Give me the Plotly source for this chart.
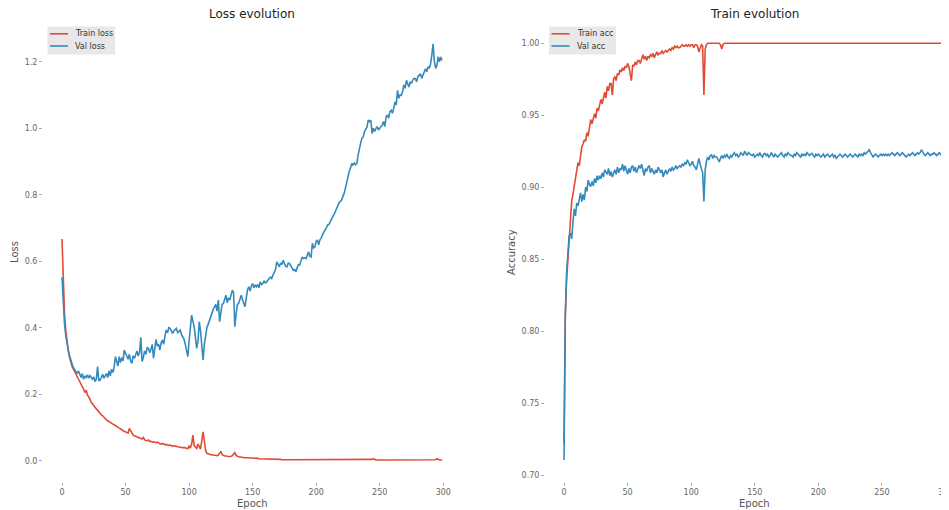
import plotly.graph_objects as go

# ---------------- data ----------------
train_loss = [
    0.667, 0.52, 0.44, 0.39, 0.355, 0.33, 0.31, 0.295, 0.283, 0.275,
    0.268, 0.258, 0.25, 0.243, 0.236, 0.23, 0.222, 0.215, 0.205, 0.212,
    0.198, 0.193, 0.185, 0.175, 0.172, 0.165, 0.16, 0.155, 0.15, 0.147,
    0.143, 0.138, 0.135, 0.13, 0.127, 0.123, 0.12, 0.117, 0.115, 0.113,
    0.11, 0.108, 0.105, 0.102, 0.1, 0.098, 0.096, 0.093, 0.09, 0.088,
    0.087, 0.085, 0.083, 0.097, 0.09, 0.08, 0.077, 0.075, 0.073, 0.071,
    0.07, 0.068, 0.066, 0.065, 0.07, 0.063, 0.061, 0.06, 0.062, 0.058,
    0.058, 0.056, 0.057, 0.055, 0.054, 0.056, 0.052, 0.051, 0.05, 0.052,
    0.05, 0.048, 0.049, 0.047, 0.046, 0.047, 0.045, 0.044, 0.045, 0.043,
    0.043, 0.042, 0.041, 0.042, 0.04, 0.039, 0.04, 0.038, 0.037, 0.036,
    0.045, 0.038, 0.05, 0.077, 0.045, 0.04, 0.037, 0.05, 0.04, 0.035,
    0.06, 0.087, 0.06, 0.03, 0.022, 0.02, 0.019, 0.018, 0.018, 0.017,
    0.016, 0.016, 0.015, 0.017, 0.022, 0.028, 0.018, 0.015, 0.014, 0.014,
    0.013, 0.013, 0.012, 0.013, 0.015, 0.02, 0.024, 0.016, 0.012, 0.011,
    0.011, 0.01, 0.01, 0.01, 0.009, 0.009, 0.009, 0.008, 0.008, 0.008,
    0.008, 0.007, 0.007, 0.007, 0.007, 0.006, 0.006, 0.006, 0.006, 0.006,
    0.005, 0.006, 0.005, 0.005, 0.005, 0.005, 0.004, 0.005, 0.004, 0.004,
    0.004, 0.004, 0.004, 0.003, 0.004, 0.003, 0.003, 0.003, 0.004, 0.003,
    0.003, 0.003, 0.003, 0.003, 0.003, 0.003, 0.004, 0.003, 0.003, 0.003,
    0.003, 0.003, 0.002, 0.003, 0.003, 0.002, 0.003, 0.002, 0.002, 0.003,
    0.002, 0.002, 0.002, 0.003, 0.002, 0.002, 0.002, 0.002, 0.002, 0.002,
    0.002, 0.002, 0.002, 0.002, 0.002, 0.002, 0.002, 0.002, 0.002, 0.002,
    0.002, 0.002, 0.002, 0.002, 0.002, 0.002, 0.002, 0.002, 0.002, 0.002,
    0.002, 0.002, 0.002, 0.002, 0.002, 0.002, 0.002, 0.002, 0.002, 0.002,
    0.002, 0.002, 0.002, 0.003, 0.004, 0.006, 0.003, 0.002, 0.002, 0.002,
    0.002, 0.002, 0.002, 0.002, 0.002, 0.002, 0.002, 0.002, 0.002, 0.002,
    0.002, 0.002, 0.002, 0.002, 0.002, 0.002, 0.002, 0.002, 0.002, 0.002,
    0.002, 0.002, 0.002, 0.002, 0.002, 0.002, 0.002, 0.002, 0.002, 0.002,
    0.002, 0.002, 0.002, 0.002, 0.002, 0.002, 0.002, 0.002, 0.002, 0.002,
    0.002, 0.002, 0.002, 0.002, 0.003, 0.006, 0.003, 0.002, 0.002, 0.002,
]

val_loss = [
    0.552, 0.46, 0.41, 0.375, 0.35, 0.33, 0.315, 0.30, 0.29, 0.28,
    0.273, 0.268, 0.262, 0.27, 0.258, 0.25, 0.262, 0.245, 0.255, 0.25,
    0.258, 0.248, 0.256, 0.25, 0.245, 0.252, 0.238, 0.245, 0.283, 0.24,
    0.243, 0.25, 0.26, 0.248, 0.255, 0.262, 0.25, 0.27, 0.255, 0.275,
    0.265, 0.28, 0.313, 0.293, 0.285, 0.313, 0.295, 0.31, 0.3, 0.333,
    0.325, 0.313, 0.305, 0.32, 0.3, 0.293, 0.315, 0.308, 0.32, 0.33,
    0.315, 0.325, 0.371, 0.298, 0.31, 0.33, 0.32, 0.34, 0.338, 0.325,
    0.335, 0.35, 0.308, 0.34, 0.365, 0.345, 0.35, 0.333, 0.355, 0.363,
    0.35, 0.375, 0.393, 0.385, 0.4, 0.398, 0.39, 0.383, 0.39, 0.395,
    0.398, 0.385, 0.39, 0.393, 0.38, 0.373, 0.365, 0.35, 0.333, 0.313,
    0.36, 0.41, 0.438, 0.42, 0.403, 0.37, 0.338, 0.36, 0.418, 0.39,
    0.34, 0.303, 0.35, 0.383, 0.4, 0.41, 0.423, 0.43, 0.445, 0.455,
    0.463, 0.47, 0.45, 0.483, 0.418, 0.45, 0.47, 0.473, 0.49, 0.498,
    0.475, 0.49, 0.483, 0.5, 0.513, 0.505, 0.403, 0.44, 0.47, 0.473,
    0.49, 0.498, 0.485, 0.475, 0.463, 0.49, 0.515, 0.523, 0.51, 0.525,
    0.533, 0.52, 0.528, 0.523, 0.53, 0.52, 0.538, 0.53, 0.533, 0.54,
    0.535, 0.538, 0.545, 0.548, 0.552, 0.548, 0.558, 0.565, 0.575, 0.598,
    0.588, 0.583, 0.595, 0.59, 0.603, 0.595, 0.585, 0.583, 0.594, 0.593,
    0.585, 0.578, 0.573, 0.575, 0.568, 0.58, 0.59, 0.588, 0.6, 0.613,
    0.608, 0.61, 0.608, 0.62, 0.628, 0.615, 0.613, 0.654, 0.64, 0.643,
    0.66, 0.664, 0.649, 0.665, 0.67, 0.68, 0.69, 0.694, 0.70, 0.709,
    0.71, 0.72, 0.725, 0.734, 0.74, 0.75, 0.76, 0.769, 0.775, 0.78,
    0.784, 0.795, 0.804, 0.82, 0.84, 0.854, 0.87, 0.88, 0.894, 0.89,
    0.895, 0.89, 0.894, 0.92, 0.944, 0.955, 0.97, 0.974, 0.99, 1.0,
    1.004, 1.025, 1.02, 1.024, 0.984, 1.0, 0.99, 0.999, 1.005, 0.995,
    1.0, 1.004, 1.01, 1.02, 1.005, 1.034, 1.04, 1.03, 1.05, 1.054,
    1.045, 1.06, 1.079, 1.07, 1.114, 1.09, 1.1, 1.099, 1.11, 1.13,
    1.12, 1.144, 1.13, 1.124, 1.14, 1.135, 1.145, 1.15, 1.149, 1.14,
    1.155, 1.16, 1.164, 1.15, 1.16, 1.17, 1.179, 1.17, 1.185, 1.18,
    1.194, 1.22, 1.254, 1.2, 1.18, 1.189, 1.215, 1.2, 1.214, 1.204,
]

train_acc = [
    0.722, 0.812, 0.835, 0.85, 0.865, 0.878, 0.89, 0.895, 0.9, 0.905,
    0.912, 0.917, 0.915, 0.924, 0.928, 0.93, 0.933, 0.932, 0.938, 0.9355,
    0.94, 0.947, 0.944, 0.949, 0.951, 0.948, 0.955, 0.953, 0.958, 0.961,
    0.958, 0.963, 0.966, 0.962, 0.97, 0.967, 0.972, 0.972, 0.964, 0.975,
    0.977, 0.974, 0.979, 0.978, 0.9815, 0.98, 0.983, 0.981, 0.984, 0.983,
    0.986, 0.984, 0.98, 0.974, 0.985, 0.984, 0.987, 0.985, 0.988, 0.988,
    0.986, 0.99, 0.992, 0.989, 0.991, 0.988, 0.991, 0.99, 0.992, 0.991,
    0.993, 0.99, 0.992, 0.994, 0.992, 0.993, 0.993, 0.995, 0.993, 0.994,
    0.995, 0.994, 0.9955, 0.996, 0.995, 0.997, 0.996, 0.998, 0.997, 0.998,
    0.997, 0.997, 0.998, 0.999, 0.998, 0.998, 0.999, 0.998, 0.999, 0.998,
    0.999, 0.999, 0.997, 0.999, 0.999, 0.998, 0.994, 0.997, 0.999, 0.998,
    0.964, 0.996, 0.999, 1.0, 1.0, 1.0, 1.0, 1.0, 1.0, 1.0,
    1.0, 1.0, 1.0, 0.999, 0.996, 0.999, 1.0, 1.0, 1.0, 1.0,
    1.0, 1.0, 1.0, 1.0, 1.0, 1.0, 1.0, 1.0, 1.0, 1.0,
    1.0, 1.0, 1.0, 1.0, 1.0, 1.0, 1.0, 1.0, 1.0, 1.0,
    1.0, 1.0, 1.0, 1.0, 1.0, 1.0, 1.0, 1.0, 1.0, 1.0,
    1.0, 1.0, 1.0, 1.0, 1.0, 1.0, 1.0, 1.0, 1.0, 1.0,
    1.0, 1.0, 1.0, 1.0, 1.0, 1.0, 1.0, 1.0, 1.0, 1.0,
    1.0, 1.0, 1.0, 1.0, 1.0, 1.0, 1.0, 1.0, 1.0, 1.0,
    1.0, 1.0, 1.0, 1.0, 1.0, 1.0, 1.0, 1.0, 1.0, 1.0,
    1.0, 1.0, 1.0, 1.0, 1.0, 1.0, 1.0, 1.0, 1.0, 1.0,
    1.0, 1.0, 1.0, 1.0, 1.0, 1.0, 1.0, 1.0, 1.0, 1.0,
    1.0, 1.0, 1.0, 1.0, 1.0, 1.0, 1.0, 1.0, 1.0, 1.0,
    1.0, 1.0, 1.0, 1.0, 1.0, 1.0, 1.0, 1.0, 1.0, 1.0,
    1.0, 1.0, 1.0, 1.0, 1.0, 1.0, 1.0, 1.0, 1.0, 1.0,
    1.0, 1.0, 1.0, 1.0, 1.0, 1.0, 1.0, 1.0, 1.0, 1.0,
    1.0, 1.0, 1.0, 1.0, 1.0, 1.0, 1.0, 1.0, 1.0, 1.0,
    1.0, 1.0, 1.0, 1.0, 1.0, 1.0, 1.0, 1.0, 1.0, 1.0,
    1.0, 1.0, 1.0, 1.0, 1.0, 1.0, 1.0, 1.0, 1.0, 1.0,
    1.0, 1.0, 1.0, 1.0, 1.0, 1.0, 1.0, 1.0, 1.0, 1.0,
]

val_acc = [
    0.7104, 0.808, 0.84, 0.855, 0.866, 0.868, 0.864, 0.875, 0.885, 0.88,
    0.889, 0.887, 0.893, 0.896, 0.89, 0.895, 0.891, 0.9, 0.897, 0.905,
    0.902, 0.9004, 0.904, 0.901, 0.906, 0.903, 0.908, 0.905, 0.908, 0.906,
    0.91, 0.907, 0.912, 0.91, 0.909, 0.913, 0.908, 0.911, 0.907, 0.91,
    0.912, 0.909, 0.914, 0.91, 0.913, 0.912, 0.916, 0.911, 0.915, 0.912,
    0.909, 0.913, 0.91, 0.914, 0.915, 0.911, 0.914, 0.91, 0.912, 0.915,
    0.913, 0.916, 0.912, 0.908, 0.913, 0.911, 0.914, 0.915, 0.91, 0.913,
    0.911, 0.909, 0.912, 0.91, 0.914, 0.912, 0.91, 0.912, 0.907, 0.91,
    0.912, 0.909, 0.911, 0.913, 0.911, 0.914, 0.912, 0.913, 0.915, 0.913,
    0.914, 0.915, 0.914, 0.916, 0.915, 0.917, 0.916, 0.919, 0.917, 0.915,
    0.916, 0.918, 0.915, 0.914, 0.912, 0.917, 0.92, 0.916, 0.912, 0.91,
    0.89, 0.912, 0.918, 0.921, 0.919, 0.922, 0.9225, 0.92, 0.922, 0.921,
    0.921, 0.919, 0.9175, 0.92, 0.922, 0.92, 0.922, 0.921, 0.923, 0.921,
    0.92, 0.922, 0.921, 0.923, 0.924, 0.922, 0.923, 0.921, 0.922, 0.924,
    0.923, 0.922, 0.925, 0.923, 0.922, 0.924, 0.923, 0.9225, 0.922, 0.923,
    0.921, 0.922, 0.923, 0.922, 0.924, 0.922, 0.921, 0.923, 0.9235, 0.922,
    0.923, 0.921, 0.922, 0.924, 0.922, 0.921, 0.923, 0.922, 0.921, 0.922,
    0.923, 0.924, 0.922, 0.921, 0.923, 0.922, 0.924, 0.923, 0.922, 0.922,
    0.921, 0.923, 0.922, 0.924, 0.923, 0.922, 0.921, 0.923, 0.922, 0.923,
    0.922, 0.924, 0.923, 0.922, 0.923, 0.9235, 0.922, 0.921, 0.923, 0.922,
    0.923, 0.922, 0.921, 0.922, 0.923, 0.921, 0.922, 0.923, 0.922, 0.921,
    0.922, 0.923, 0.921, 0.922, 0.92, 0.921, 0.922, 0.923, 0.922, 0.921,
    0.922, 0.923, 0.922, 0.921, 0.922, 0.923, 0.922, 0.921, 0.922, 0.923,
    0.922, 0.921, 0.923, 0.922, 0.923, 0.922, 0.924, 0.923, 0.924, 0.925,
    0.926, 0.924, 0.922, 0.921, 0.922, 0.923, 0.922, 0.921, 0.922, 0.923,
    0.922, 0.923, 0.922, 0.923, 0.922, 0.923, 0.922, 0.923, 0.924, 0.923,
    0.922, 0.923, 0.924, 0.923, 0.922, 0.923, 0.924, 0.923, 0.922, 0.921,
    0.922, 0.923, 0.922, 0.923, 0.924, 0.923, 0.922, 0.923, 0.924, 0.923,
    0.924, 0.926, 0.924, 0.923, 0.922, 0.923, 0.924, 0.923, 0.922, 0.923,
    0.923, 0.924, 0.923, 0.922, 0.923, 0.924, 0.923, 0.922, 0.923, 0.9235,
]

epochs = list(range(len(train_loss)))

x_tick_vals = [0, 50, 100, 150, 200, 250, 300]
loss_tick_vals = [0.0, 0.2, 0.4, 0.6, 0.8, 1.0, 1.2]
acc_tick_vals = [0.70, 0.75, 0.80, 0.85, 0.90, 0.95, 1.00]

loss_names = ["Train loss", "Val loss"]
acc_names = ["Train acc", "Val acc"]

# ---------------- style ----------------
RED = "#E24A33"
BLUE = "#348ABD"
OFF = 8                      # default page body margin
W, H = 949 - OFF, 510 - OFF  # figure size so it fills the window
FONT = "DejaVu Sans, Liberation Sans, sans-serif"


def px(x):   # page pixel -> paper x
    return (x - OFF) / W


def py(y):   # page pixel -> paper y
    return 1 - (y - OFF) / H


fig = go.Figure()
fig.add_trace(go.Scatter(x=epochs, y=train_loss, mode="lines", name=loss_names[0],
                         line=dict(color=RED, width=1.6), xaxis="x", yaxis="y"))
fig.add_trace(go.Scatter(x=epochs, y=val_loss, mode="lines", name=loss_names[1],
                         line=dict(color=BLUE, width=1.6), xaxis="x", yaxis="y"))
fig.add_trace(go.Scatter(x=epochs, y=train_acc, mode="lines", name=acc_names[0],
                         line=dict(color=RED, width=1.6), xaxis="x2", yaxis="y2"))
fig.add_trace(go.Scatter(x=epochs, y=val_acc, mode="lines", name=acc_names[1],
                         line=dict(color=BLUE, width=1.6), xaxis="x2", yaxis="y2"))

ydom = [py(481.5), py(22.5)]
axis_common = dict(showgrid=False, zeroline=False, showline=False, ticks="outside",
                   ticklen=3, tickwidth=1, tickcolor="#aaaaaa", automargin=False,
                   tickfont=dict(family=FONT, size=8, color="#666666"))

fig.update_layout(
    width=W, height=H,
    margin=dict(l=0, r=0, t=0, b=0),
    paper_bgcolor="white", plot_bgcolor="white",
    font=dict(family=FONT),
    showlegend=False,
    xaxis=dict(domain=[px(43), px(461)], range=[-14.95, 313.95], tickvals=x_tick_vals, anchor="y", **axis_common),
    yaxis=dict(domain=ydom, range=[-0.0626, 1.318], tickvals=loss_tick_vals, tickformat=".1f", anchor="x", **axis_common),
    xaxis2=dict(domain=[px(545), 1.0], range=[-14.95, 302.7], tickvals=x_tick_vals, anchor="y2",
                ticklabeloverflow="allow", **axis_common),
    yaxis2=dict(domain=ydom, range=[0.69548, 1.01445], tickvals=acc_tick_vals, tickformat=".2f", anchor="x2", **axis_common),
)

ann_font_title = dict(family=FONT, size=12, color="#222222")
ann_font_label = dict(family=FONT, size=10, color="#555555")
annotations = [
    dict(text="Loss evolution", x=px(252), y=py(14), font=ann_font_title),
    dict(text="Train evolution", x=px(754), y=py(14), font=ann_font_title),
    dict(text="Epoch", x=px(252), y=py(503), font=ann_font_label),
    dict(text="Epoch", x=px(754), y=py(503), font=ann_font_label),
    dict(text="Loss", x=px(14), y=py(252), textangle=-90, font=ann_font_label),
    dict(text="Accuracy", x=px(511), y=py(252), textangle=-90, font=ann_font_label),
]
for a in annotations:
    fig.add_annotation(xref="paper", yref="paper", showarrow=False,
                       xanchor="center", yanchor="middle", **a)

# ---------------- legends (drawn as boxes with line samples + text) ----------------
legend_font = dict(family=FONT, size=8, color="#333333")
legends = [
    (47.5, 115, loss_names),
    (549, 616, acc_names),
]
for left, right, names in legends:
    fig.add_shape(type="rect", xref="paper", yref="paper",
                  x0=px(left), x1=px(right), y0=py(54.5), y1=py(26.5),
                  fillcolor="#e8e8e8", line=dict(width=0), layer="below")
    for name, color, yy in zip(names, [RED, BLUE], [33.8, 46.0]):
        fig.add_shape(type="line", xref="paper", yref="paper",
                      x0=px(left + 2.5), x1=px(left + 20.5), y0=py(yy), y1=py(yy),
                      line=dict(color=color, width=1.6))
        fig.add_annotation(xref="paper", yref="paper", showarrow=False,
                           x=px(left + 25.5), y=py(yy), xanchor="left", yanchor="middle",
                           text=name, font=legend_font)

fig.write_html("out.html")
